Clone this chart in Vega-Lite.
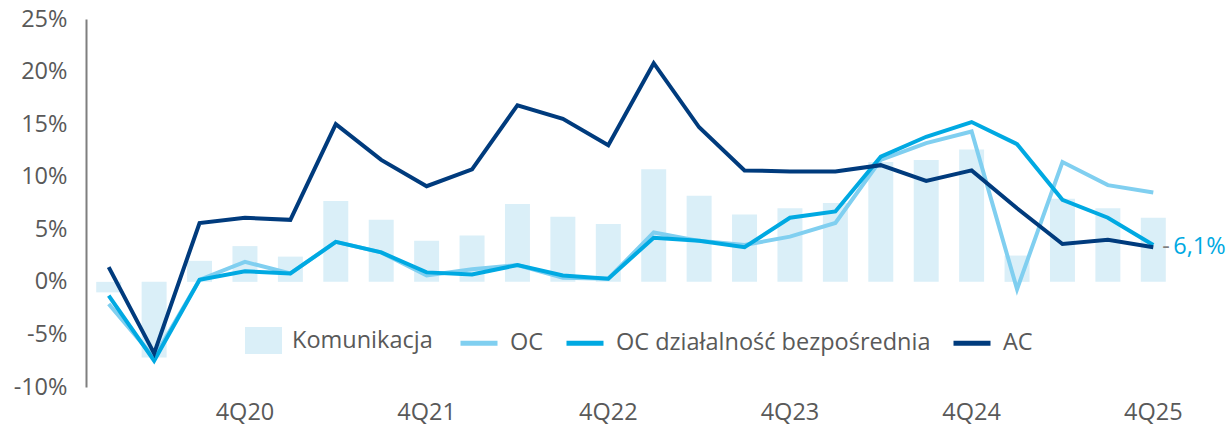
{
  "$schema": "https://vega.github.io/schema/vega-lite/v6.json",
  "width": 1090,
  "height": 368,
  "autosize": "none",
  "padding": {"left": 86, "top": 19, "right": 51, "bottom": 40},
  "background": "white",
  "config": {
    "font": "Open Sans",
    "view": {"stroke": null},
    "axis": {"labelFont": "Open Sans", "labelColor": "#595959", "labelFontSize": 23.5, "grid": false, "ticks": false},
    "legend": {"labelFont": "Open Sans", "labelColor": "#595959", "labelFontSize": 23.5, "labelLimit": 500}
  },
  "datasets": {
    "bars": [
      {"q": "1Q20", "series": "Komunikacja", "v": -1.0},
      {"q": "2Q20", "series": "Komunikacja", "v": -7.2},
      {"q": "3Q20", "series": "Komunikacja", "v": 2.0},
      {"q": "4Q20", "series": "Komunikacja", "v": 3.4},
      {"q": "1Q21", "series": "Komunikacja", "v": 2.4},
      {"q": "2Q21", "series": "Komunikacja", "v": 7.7},
      {"q": "3Q21", "series": "Komunikacja", "v": 5.9},
      {"q": "4Q21", "series": "Komunikacja", "v": 3.9},
      {"q": "1Q22", "series": "Komunikacja", "v": 4.4},
      {"q": "2Q22", "series": "Komunikacja", "v": 7.4},
      {"q": "3Q22", "series": "Komunikacja", "v": 6.2},
      {"q": "4Q22", "series": "Komunikacja", "v": 5.5},
      {"q": "1Q23", "series": "Komunikacja", "v": 10.7},
      {"q": "2Q23", "series": "Komunikacja", "v": 8.2},
      {"q": "3Q23", "series": "Komunikacja", "v": 6.4},
      {"q": "4Q23", "series": "Komunikacja", "v": 7.0},
      {"q": "1Q24", "series": "Komunikacja", "v": 7.5},
      {"q": "2Q24", "series": "Komunikacja", "v": 11.4},
      {"q": "3Q24", "series": "Komunikacja", "v": 11.6},
      {"q": "4Q24", "series": "Komunikacja", "v": 12.6},
      {"q": "1Q25", "series": "Komunikacja", "v": 2.5},
      {"q": "2Q25", "series": "Komunikacja", "v": 7.9},
      {"q": "3Q25", "series": "Komunikacja", "v": 7.0},
      {"q": "4Q25", "series": "Komunikacja", "v": 6.1}
    ],
    "lines": [
      {"q": "1Q20", "series": "OC", "v": -2.1},
      {"q": "2Q20", "series": "OC", "v": -7.2},
      {"q": "3Q20", "series": "OC", "v": 0.2},
      {"q": "4Q20", "series": "OC", "v": 1.9},
      {"q": "1Q21", "series": "OC", "v": 0.8},
      {"q": "2Q21", "series": "OC", "v": 3.8},
      {"q": "3Q21", "series": "OC", "v": 2.8},
      {"q": "4Q21", "series": "OC", "v": 0.6},
      {"q": "1Q22", "series": "OC", "v": 1.2},
      {"q": "2Q22", "series": "OC", "v": 1.6},
      {"q": "3Q22", "series": "OC", "v": 0.4},
      {"q": "4Q22", "series": "OC", "v": 0.3},
      {"q": "1Q23", "series": "OC", "v": 4.7},
      {"q": "2Q23", "series": "OC", "v": 3.9},
      {"q": "3Q23", "series": "OC", "v": 3.5},
      {"q": "4Q23", "series": "OC", "v": 4.3},
      {"q": "1Q24", "series": "OC", "v": 5.6},
      {"q": "2Q24", "series": "OC", "v": 11.6},
      {"q": "3Q24", "series": "OC", "v": 13.2},
      {"q": "4Q24", "series": "OC", "v": 14.3},
      {"q": "1Q25", "series": "OC", "v": -0.7},
      {"q": "2Q25", "series": "OC", "v": 11.4},
      {"q": "3Q25", "series": "OC", "v": 9.2},
      {"q": "4Q25", "series": "OC", "v": 8.5},
      {"q": "1Q20", "series": "OC działalność bezpośrednia", "v": -1.3},
      {"q": "2Q20", "series": "OC działalność bezpośrednia", "v": -7.5},
      {"q": "3Q20", "series": "OC działalność bezpośrednia", "v": 0.2},
      {"q": "4Q20", "series": "OC działalność bezpośrednia", "v": 1.0},
      {"q": "1Q21", "series": "OC działalność bezpośrednia", "v": 0.8},
      {"q": "2Q21", "series": "OC działalność bezpośrednia", "v": 3.8},
      {"q": "3Q21", "series": "OC działalność bezpośrednia", "v": 2.8},
      {"q": "4Q21", "series": "OC działalność bezpośrednia", "v": 0.9},
      {"q": "1Q22", "series": "OC działalność bezpośrednia", "v": 0.7},
      {"q": "2Q22", "series": "OC działalność bezpośrednia", "v": 1.6},
      {"q": "3Q22", "series": "OC działalność bezpośrednia", "v": 0.6},
      {"q": "4Q22", "series": "OC działalność bezpośrednia", "v": 0.3},
      {"q": "1Q23", "series": "OC działalność bezpośrednia", "v": 4.2},
      {"q": "2Q23", "series": "OC działalność bezpośrednia", "v": 3.9},
      {"q": "3Q23", "series": "OC działalność bezpośrednia", "v": 3.3},
      {"q": "4Q23", "series": "OC działalność bezpośrednia", "v": 6.1},
      {"q": "1Q24", "series": "OC działalność bezpośrednia", "v": 6.7},
      {"q": "2Q24", "series": "OC działalność bezpośrednia", "v": 11.9},
      {"q": "3Q24", "series": "OC działalność bezpośrednia", "v": 13.8},
      {"q": "4Q24", "series": "OC działalność bezpośrednia", "v": 15.2},
      {"q": "1Q25", "series": "OC działalność bezpośrednia", "v": 13.1},
      {"q": "2Q25", "series": "OC działalność bezpośrednia", "v": 7.8},
      {"q": "3Q25", "series": "OC działalność bezpośrednia", "v": 6.1},
      {"q": "4Q25", "series": "OC działalność bezpośrednia", "v": 3.5},
      {"q": "1Q20", "series": "AC", "v": 1.4},
      {"q": "2Q20", "series": "AC", "v": -6.8},
      {"q": "3Q20", "series": "AC", "v": 5.6},
      {"q": "4Q20", "series": "AC", "v": 6.1},
      {"q": "1Q21", "series": "AC", "v": 5.9},
      {"q": "2Q21", "series": "AC", "v": 15.0},
      {"q": "3Q21", "series": "AC", "v": 11.6},
      {"q": "4Q21", "series": "AC", "v": 9.1},
      {"q": "1Q22", "series": "AC", "v": 10.7},
      {"q": "2Q22", "series": "AC", "v": 16.8},
      {"q": "3Q22", "series": "AC", "v": 15.5},
      {"q": "4Q22", "series": "AC", "v": 13.0},
      {"q": "1Q23", "series": "AC", "v": 20.8},
      {"q": "2Q23", "series": "AC", "v": 14.7},
      {"q": "3Q23", "series": "AC", "v": 10.6},
      {"q": "4Q23", "series": "AC", "v": 10.5},
      {"q": "1Q24", "series": "AC", "v": 10.5},
      {"q": "2Q24", "series": "AC", "v": 11.1},
      {"q": "3Q24", "series": "AC", "v": 9.6},
      {"q": "4Q24", "series": "AC", "v": 10.6},
      {"q": "1Q25", "series": "AC", "v": 7.0},
      {"q": "2Q25", "series": "AC", "v": 3.6},
      {"q": "3Q25", "series": "AC", "v": 4.0},
      {"q": "4Q25", "series": "AC", "v": 3.3}
    ],
    "label": [
      {"q": "4Q25", "v": 3.3, "label": "6,1%"}
    ]
  },
  "encoding": {
    "x": {
      "field": "q", "type": "ordinal", "sort": null,
      "scale": {"paddingInner": 0.45, "paddingOuter": 0.225},
      "axis": {
        "title": null, "domain": false, "labelAngle": 0, "labelPadding": 13,
        "labelExpr": "indexof(datum.value, '4Q') === 0 ? datum.value : ''"
      }
    },
    "y": {
      "field": "v", "type": "quantitative",
      "scale": {"domain": [-10, 25], "nice": false, "zero": false},
      "axis": {
        "title": null, "values": [-10, -5, 0, 5, 10, 15, 20, 25],
        "domain": true, "domainColor": "#7f7f7f", "domainWidth": 2,
        "labelPadding": 19, "labelExpr": "datum.value + '%'"
      }
    }
  },
  "layer": [
    {
      "data": {"name": "bars"},
      "mark": {"type": "bar"},
      "encoding": {
        "fill": {
          "field": "series", "type": "nominal",
          "scale": {"domain": ["Komunikacja"], "range": ["#daeff8"]},
          "legend": {
            "title": null, "orient": "none", "legendX": 159, "legendY": 303,
            "symbolType": "M-1,-0.73H1V0.73H-1Z", "symbolSize": 1369,
            "symbolStrokeWidth": 0, "labelOffset": 10
          }
        }
      }
    },
    {
      "data": {"values": [{}]},
      "mark": {"type": "rule", "color": "#7f7f7f", "strokeWidth": 2},
      "encoding": {"x": {"value": 0}, "x2": {"value": 1090}, "y": {"datum": 0}}
    },
    {
      "data": {"name": "lines"},
      "transform": [{"filter": "datum.series === 'OC'"}],
      "mark": {"type": "line", "strokeWidth": 4},
      "encoding": {
        "stroke": {
          "field": "series", "type": "nominal",
          "scale": {"domain": ["OC", "OC działalność bezpośrednia", "AC"], "range": ["#80cff0", "#00a9e2", "#003b7d"]},
          "legend": {
            "title": null, "orient": "none", "direction": "horizontal", "legendX": 372, "legendY": 303,
            "symbolType": "stroke", "symbolSize": 1369, "symbolStrokeWidth": 5,
            "labelOffset": 10, "columnPadding": 12
          }
        }
      }
    },
    {
      "data": {"name": "lines"},
      "transform": [{"filter": "datum.series === 'OC działalność bezpośrednia'"}],
      "mark": {"type": "line", "strokeWidth": 4},
      "encoding": {"stroke": {"field": "series", "type": "nominal"}}
    },
    {
      "data": {"name": "lines"},
      "transform": [{"filter": "datum.series === 'AC'"}],
      "mark": {"type": "line", "strokeWidth": 4},
      "encoding": {"stroke": {"field": "series", "type": "nominal"}}
    },
    {
      "data": {"name": "label"},
      "mark": {"type": "text", "text": "-", "align": "left", "baseline": "middle", "dx": 9, "dy": 0, "fontSize": 23.5, "color": "#7f7f7f"},
      "encoding": {}
    },
    {
      "data": {"name": "label"},
      "mark": {"type": "text", "align": "left", "baseline": "middle", "dx": 20, "dy": 0, "fontSize": 23.5, "color": "#00a9e2"},
      "encoding": {"text": {"field": "label"}}
    }
  ]
}
